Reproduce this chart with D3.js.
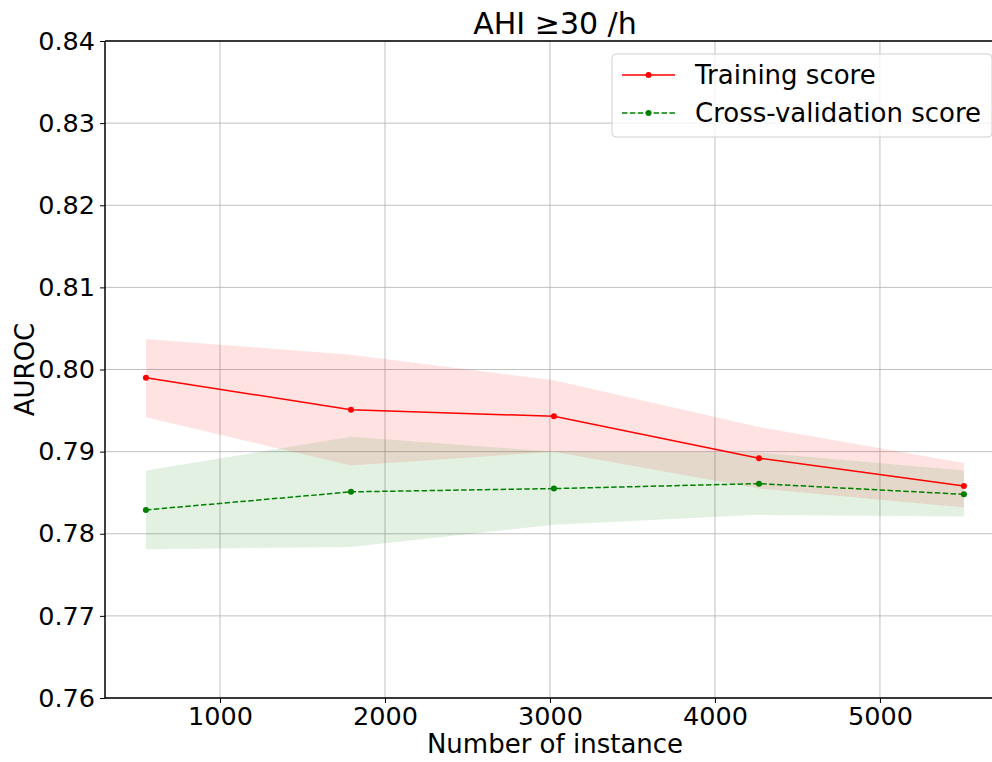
<!DOCTYPE html>
<html>
<head>
<meta charset="utf-8">
<script src="https://cdn.jsdelivr.net/npm/d3@7"></script>
<style>
  body { margin: 0; background: #fff; }
  svg { display: block; font-family: "DejaVu Sans", sans-serif; }
</style>
</head>
<body>
<script>
// learning curve data
var trainSizes = [551, 1794, 3024, 4267, 5509];
var trainMean = [0.7990, 0.7951, 0.7943, 0.7892, 0.7858];
var trainUpper = [0.8037, 0.8018, 0.7987, 0.7930, 0.7886];
var trainLower = [0.7942, 0.7883, 0.7900, 0.7855, 0.7832];
var cvMean = [0.7829, 0.7851, 0.7855, 0.7861, 0.7848];
var cvUpper = [0.7877, 0.7918, 0.7900, 0.7899, 0.7877];
var cvLower = [0.7781, 0.7784, 0.7811, 0.7823, 0.7821];
var xTicks = [1000, 2000, 3000, 4000, 5000];
var yTicks = [0.76, 0.77, 0.78, 0.79, 0.80, 0.81, 0.82, 0.83, 0.84];
var seriesNames = ["Training score", "Cross-validation score"];

var width = 992, height = 762;
var margin = { top: 41, left: 105, bottom: 64 };
var plotRight = 1005; // axes run past the cropped edge

var svg = d3.select("body").append("svg")
    .attr("width", width)
    .attr("height", height);

var x = d3.scaleLinear().domain([303, 5758]).range([margin.left, plotRight]);
var y = d3.scaleLinear().domain([0.76, 0.84]).range([height - margin.bottom, margin.top]);

// grid
svg.append("g").selectAll("line.gx")
    .data(xTicks).enter().append("line")
    .attr("x1", function(d) { return x(d); })
    .attr("x2", function(d) { return x(d); })
    .attr("y1", y(0.76)).attr("y2", y(0.84))
    .attr("stroke", "#b0b0b0").attr("stroke-width", 0.8);
svg.append("g").selectAll("line.gy")
    .data(yTicks).enter().append("line")
    .attr("x1", margin.left).attr("x2", plotRight)
    .attr("y1", function(d) { return y(d); })
    .attr("y2", function(d) { return y(d); })
    .attr("stroke", "#b0b0b0").attr("stroke-width", 0.8);

function band(upper, lower) {
    return d3.area()
        .x(function(d, i) { return x(trainSizes[i]); })
        .y0(function(d, i) { return y(lower[i]); })
        .y1(function(d, i) { return y(upper[i]); })(trainSizes);
}

svg.append("path").attr("d", band(trainUpper, trainLower))
    .attr("fill", "red").attr("fill-opacity", 0.11);
svg.append("path").attr("d", band(cvUpper, cvLower))
    .attr("fill", "green").attr("fill-opacity", 0.11);

var line = d3.line()
    .x(function(d, i) { return x(trainSizes[i]); })
    .y(function(d) { return y(d); });

svg.append("path").attr("d", line(trainMean))
    .attr("fill", "none").attr("stroke", "red").attr("stroke-width", 1.5);
svg.append("path").attr("d", line(cvMean))
    .attr("fill", "none").attr("stroke", "green").attr("stroke-width", 1.5)
    .attr("stroke-dasharray", "5.5,2.4");

svg.append("g").selectAll("circle")
    .data(trainMean).enter().append("circle")
    .attr("cx", function(d, i) { return x(trainSizes[i]); })
    .attr("cy", function(d) { return y(d); })
    .attr("r", 3).attr("fill", "red");
svg.append("g").selectAll("circle")
    .data(cvMean).enter().append("circle")
    .attr("cx", function(d, i) { return x(trainSizes[i]); })
    .attr("cy", function(d) { return y(d); })
    .attr("r", 3).attr("fill", "green");

// axes
var xAxis = svg.append("g")
    .attr("transform", "translate(0," + y(0.76) + ")")
    .call(d3.axisBottom(x).tickValues(xTicks).tickSize(5).tickPadding(4).tickFormat(d3.format("d")));
var yAxis = svg.append("g")
    .attr("transform", "translate(" + margin.left + ",0)")
    .call(d3.axisLeft(y).tickValues(yTicks).tickSize(5).tickPadding(5).tickFormat(d3.format(".2f")));
[xAxis, yAxis].forEach(function(a) {
    a.selectAll("text").attr("font-family", "DejaVu Sans").attr("font-size", 25.5).attr("fill", "#000");
    a.selectAll(".tick line").attr("stroke", "#000").attr("stroke-width", 1);
    a.select(".domain").remove();
});
xAxis.selectAll("text").attr("dy", "0.72em");

// spines
svg.append("line").attr("x1", margin.left).attr("x2", margin.left)
    .attr("y1", y(0.84)).attr("y2", y(0.76)).attr("stroke", "#000").attr("stroke-width", 1.5);
svg.append("line").attr("x1", margin.left).attr("x2", plotRight)
    .attr("y1", y(0.76)).attr("y2", y(0.76)).attr("stroke", "#000").attr("stroke-width", 1.5);
svg.append("line").attr("x1", margin.left).attr("x2", plotRight)
    .attr("y1", y(0.84)).attr("y2", y(0.84)).attr("stroke", "#000").attr("stroke-width", 1.5);

// labels
svg.append("text")
    .attr("x", (margin.left + plotRight) / 2).attr("y", 34)
    .attr("text-anchor", "middle").attr("font-size", 30)
    .text("AHI \u226530 /h");
svg.append("text")
    .attr("x", (margin.left + plotRight) / 2).attr("y", 753)
    .attr("text-anchor", "middle").attr("font-size", 26)
    .text("Number of instance");
svg.append("text")
    .attr("transform", "translate(34," + y(0.80) + ") rotate(-90)")
    .attr("text-anchor", "middle").attr("font-size", 26)
    .text("AUROC");

// legend
var legend = svg.append("g").attr("transform", "translate(612,54)");
legend.append("rect")
    .attr("width", 380).attr("height", 83).attr("rx", 4)
    .attr("fill", "#fff").attr("fill-opacity", 0.8)
    .attr("stroke", "#d0d0d0").attr("stroke-width", 1);
var colors = ["red", "green"];
var dashes = [null, "5.5,2.4"];
seriesNames.forEach(function(name, i) {
    var ly = 21 + i * 38;
    legend.append("line").attr("x1", 10).attr("x2", 63)
        .attr("y1", ly).attr("y2", ly)
        .attr("stroke", colors[i]).attr("stroke-width", 1.5)
        .attr("stroke-dasharray", dashes[i]);
    legend.append("circle").attr("cx", 36.5).attr("cy", ly).attr("r", 3).attr("fill", colors[i]);
    legend.append("text").attr("x", 83).attr("y", ly + 9)
        .attr("font-size", 26).text(name);
});
</script>
</body>
</html>
